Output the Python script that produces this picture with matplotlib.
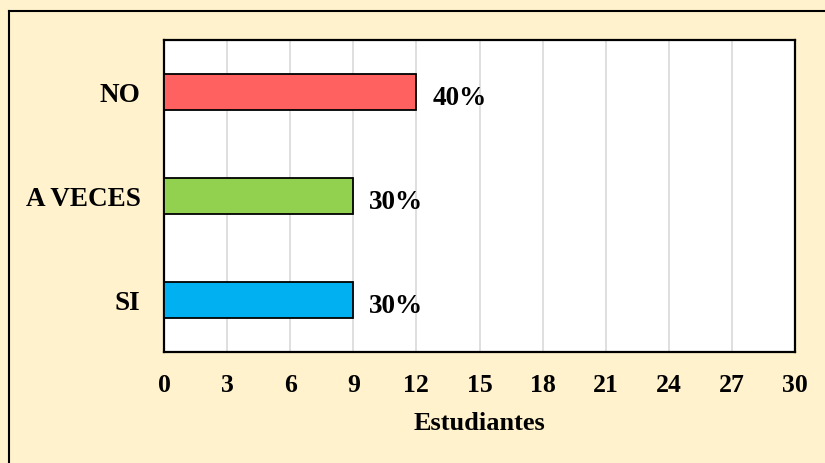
import matplotlib.pyplot as plt
from matplotlib.lines import Line2D

categorias = ['SI', 'A VECES', 'NO']
estudiantes = [9, 9, 12]
porcentajes = ['30%', '30%', '40%']
colores = ['#00B0F0', '#92D050', '#FF6161']
ticks_x = list(range(0, 31, 3))

plt.rcParams['font.family'] = ['Liberation Serif', 'DejaVu Serif']
plt.rcParams['font.weight'] = 'bold'

fig = plt.figure(figsize=(8.25, 4.63), dpi=100)
fig.patch.set_facecolor('#FFF2CC')
ax = fig.add_axes([164/825, 1 - 352/463, (795 - 164)/825, (352 - 40)/463])

ax.barh(categorias, estudiantes, height=0.355, color=colores,
        edgecolor='black', linewidth=1.3, zorder=3)
for i, (v, p) in enumerate(zip(estudiantes, porcentajes)):
    ax.text(v + 0.75, i - 0.03, p, va='center_baseline', ha='left',
            fontsize=19.5, fontweight='bold')

ax.set_xlim(0, 30)
ax.set_ylim(-0.5, 2.5)
ax.set_xticks(ticks_x)
ax.grid(axis='x', color='#D9D9D9', linewidth=1.2, zorder=0)
ax.tick_params(axis='x', length=0, labelsize=18.5, pad=16)
ax.tick_params(axis='y', length=0, labelsize=19.5, pad=17)
for lab in ax.get_xticklabels() + ax.get_yticklabels():
    lab.set_fontweight('bold')
for s in ax.spines.values():
    s.set_linewidth(1.6)
ax.set_xlabel('Estudiantes', fontsize=19, fontweight='bold', labelpad=11)

# marco exterior
fig.add_artist(Line2D([9/825, 9/825], [0, 1 - 11/463], transform=fig.transFigure,
                      color='black', linewidth=1.5))
fig.add_artist(Line2D([9/825, 1], [1 - 11/463, 1 - 11/463], transform=fig.transFigure,
                      color='black', linewidth=1.5))

fig.savefig('out.png', dpi=100, facecolor=fig.get_facecolor())
